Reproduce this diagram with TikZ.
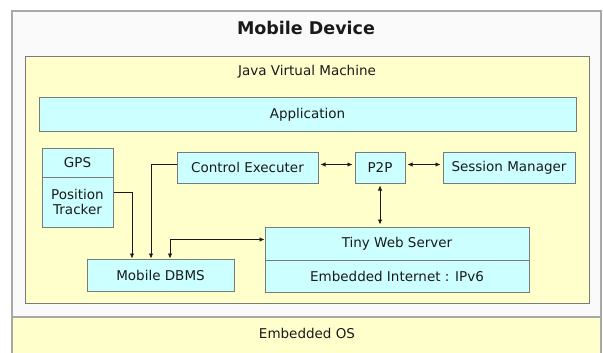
\documentclass[tikz,border=0pt]{standalone}
\usepackage{fontspec}
\setmainfont{DejaVu Sans}
\usetikzlibrary{arrows.meta}
\definecolor{bord}{HTML}{7A7A7A}
\definecolor{outerb}{HTML}{A8A8A8}
\definecolor{yel}{HTML}{FFFFCC}
\definecolor{cyn}{HTML}{CCFFFF}
\definecolor{txt}{HTML}{1A1A1A}
\tikzset{
  layer/.style={draw=bord, line width=1pt},
  comp/.style={draw=bord, fill=cyn, line width=1pt, inner sep=0pt, align=center,
    text=txt, font=\fontsize{13.5}{15.5}\selectfont},
  lbl/.style={text=txt, font=\fontsize{13.5}{16}\selectfont, inner sep=0pt},
  arr/.style={draw=txt, line width=0.8pt, -{Latex[length=5pt,width=4.5pt]}},
  darr/.style={draw=txt, line width=0.8pt, {Latex[length=5pt,width=4.5pt]}-{Latex[length=5pt,width=4.5pt]}, shorten >=2pt, shorten <=2pt},
}
\begin{document}
\begin{tikzpicture}[x=1pt,y=-1pt]
\useasboundingbox (0,0) rectangle (603,353);
\fill[white] (0,0) rectangle (603,353);
% outer device
\draw[draw=outerb, line width=1.4pt, fill=white!98!black] (12,11) rectangle (601,317);
\node[lbl, font=\fontsize{17.5}{20}\selectfont\bfseries] (md) at (306,28) {Mobile Device};
% JVM
\draw[layer, fill=yel] (25,57) rectangle (589,303);
\node[lbl] (jvm) at (307,72) {Java Virtual Machine};
% Embedded OS
\draw[draw=outerb, line width=1.4pt, fill=yel] (12,317) rectangle (601,360);
\node[lbl] (os) at (307,333) {Embedded OS};
% components
\node[comp, minimum width=537pt, minimum height=33pt] (app) at (307.5,114.5) {Application};
\node[comp, minimum width=71pt, minimum height=29pt] (gps) at (77.5,162.5) {GPS};
\node[comp, minimum width=71pt, minimum height=50pt] (pt) at (77.5,202) {Position\\Tracker};
\node[comp, minimum width=141pt, minimum height=31pt] (ce) at (247.5,167.5) {Control Executer};
\node[comp, minimum width=50pt, minimum height=31pt] (p2p) at (380,167.5) {P2P};
\node[comp, minimum width=132pt, minimum height=31pt] (sm) at (509,167.5) {Session Manager};
\node[comp, minimum width=264pt, minimum height=33pt] (tws) at (397,243.5) {Tiny Web Server};
\node[comp, minimum width=264pt, minimum height=32pt] (ei) at (397,276) {Embedded Internet : IPv6};
\node[comp, minimum width=147pt, minimum height=32pt] (dbms) at (160.5,275) {Mobile DBMS};
% connectors
\draw[arr] ([yshift=10pt]pt.east) -| ([xshift=-28.5pt]dbms.north);
\draw[arr] ([yshift=3.5pt]ce.west) -| ([xshift=-9.5pt]dbms.north);
\draw[arr, {Latex[length=5pt,width=4.5pt]}-{Latex[length=5pt,width=4.5pt]}] ([xshift=9.5pt]dbms.north) |- ([yshift=4pt]tws.west);
\draw[darr] ([yshift=3pt]ce.east) -- ([yshift=3pt]p2p.west);
\draw[darr] ([yshift=3pt]p2p.east) -- ([yshift=3pt]sm.west);
\draw[darr] (p2p.south) -- (p2p.south |- tws.north);
\end{tikzpicture}
\end{document}
